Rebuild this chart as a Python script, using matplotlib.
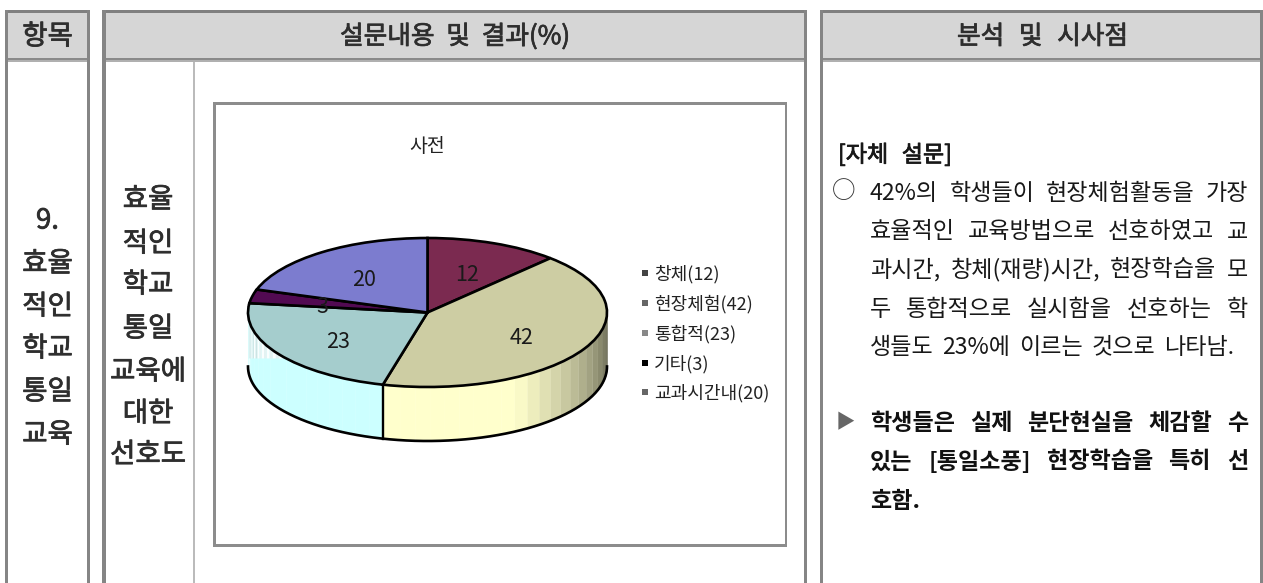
import numpy as np
import matplotlib
matplotlib.use("Agg")
import matplotlib.pyplot as plt
import matplotlib.patheffects as pe
from matplotlib.patches import Rectangle

plt.rcParams['font.family'] = ['Noto Sans CJK KR', 'DejaVu Sans']

# ---- data ----
slice_names = ["창체", "현장체험", "통합적", "기타", "교과시간내"]
slice_values = [12, 42, 23, 3, 20]
chart_title = "사전"
header_labels = ["항목", "설문내용 및 결과(%)", "분석 및 시사점"]
item_lines = ["9.", "효율", "적인", "학교", "통일", "교육"]
question_lines = ["효율", "적인", "학교", "통일", "교육에", "대한", "선호도"]
survey_heading = "[자체 설문]"
survey_lines = ["42%의 학생들이 현장체험활동을 가장",
                "효율적인 교육방법으로 선호하였고 교",
                "과시간, 창체(재량)시간, 현장학습을 모",
                "두 통합적으로 실시함을 선호하는 학",
                "생들도 23%에 이르는 것으로 나타남."]
finding_lines = ["학생들은 실제 분단현실을 체감할 수",
                 "있는 [통일소풍] 현장학습을 특히 선",
                 "호함."]

# ---- styles ----
top_colors = ["#7B2A50", "#CDCDA3", "#A5CDCD", "#520A52", "#7C7CCF"]
wall_colors = ["#7B2A50", "#FFFFCC", "#CCFFFF", "#520A52", "#7C7CCF"]
legend_marks = ["#444444", "#666666", "#888888", "#000000", "#666666"]
TXT = "#222222"
SOFT = "#2e2e2e"
MEDIUM = [pe.withStroke(linewidth=0.55, foreground=SOFT)]

W, H = 1263, 583
fig = plt.figure(figsize=(W / 100, H / 100), dpi=100, facecolor="white")
bg = fig.add_axes([0, 0, 1, 1])
bg.set_xlim(0, W)
bg.set_ylim(H, 0)
bg.axis("off")


def box(x0, y0, x1, y1, c):
    bg.add_patch(Rectangle((x0, y0), x1 - x0, y1 - y0, fc=c, ec="none", lw=0))


# table columns: outer left, inner left, inner right, outer right
columns = [(4.5, 7.5, 87, 90), (102, 105.5, 804, 807), (819.5, 822.5, 1260, 1263)]
for a, b, c, d in columns:
    box(b, 13, c, 58, "#D6D6D6")
    box(a, 10, d, 13, "#808080")
    box(a, 10, b, H, "#858585")
    box(c, 10, d, H, "#858585")
    box(b, 58, c, 60, "#8A8A8A")
    box(b, 60, c, 62, "#B0B0B0")
box(193, 62, 195, H, "#BBBBBB")

# chart frame
box(213, 102, 787, 105, "#8C8C8C")
box(213, 544, 787, 547, "#8C8C8C")
box(213, 102, 216, 547, "#8C8C8C")
box(785, 102, 787, 547, "#8C8C8C")

renderer = fig.canvas.get_renderer()


def justified(s, y, x0=870, x1=1248, justify=True, **kw):
    words = s.split(" ")
    arts = [bg.text(x0, y, w, ha="left", va="center", **kw) for w in words]
    widths = [t.get_window_extent(renderer).width for t in arts]
    if justify and len(words) > 1:
        gap = (x1 - x0 - sum(widths)) / (len(words) - 1)
    else:
        gap = 6
    x = x0
    for t, wd in zip(arts, widths):
        t.set_x(x)
        x += wd + gap


# headers
head = dict(fontsize=18.5, color=SOFT, path_effects=MEDIUM)
side = dict(fontsize=19.8, color=SOFT, path_effects=MEDIUM, ha="center", va="center")
bg.text(47.5, 37, header_labels[0], **side)
justified(header_labels[1], 37, x0=340, x1=570, **head)
justified(header_labels[2], 37, x0=957, x1=1128, **head)

for s, y in zip(item_lines, (219, 262, 305, 347, 390, 433)):
    bg.text(47.5, y + 2, s, **side)
for s, y in zip(question_lines, (198, 242, 283, 327, 370, 412, 453)):
    bg.text(148, y + 2, s, **side)

bg.text(427, 147, chart_title, ha="center", va="center", fontsize=14, color=TXT)

# legend
for name, v, c, y in zip(slice_names, slice_values, legend_marks, (273, 303, 333, 363, 392)):
    bg.plot([645], [y], marker="s", ms=4.6, color=c, mew=0, ls="none")
    bg.text(654, y + 1, f"{name}({v})", ha="left", va="center", fontsize=13, color=TXT)

# right column text, justified word by word
body = dict(fontsize=16.6, color="#181818")
bold = dict(fontsize=16.6, color="#111111", weight="bold")
justified(survey_heading, 155, x0=838, x1=952, fontsize=16.6, color="#181818",
          path_effects=[pe.withStroke(linewidth=0.55, foreground="#181818")])
bg.text(844, 192, "○", ha="center", va="center", fontsize=17, color="#333333")
for s, y in zip(survey_lines, (194, 232, 270, 309)):
    justified(s.strip(), y, **body)
justified(survey_lines[4], 347, x1=1234, **body)
bg.text(845, 423, "▶", ha="center", va="center", fontsize=14, color="#666666")
for s, y, j in zip(finding_lines, (424, 462, 502), (True, True, False)):
    justified(s, y, justify=j, **bold)

# ---- pie: top face spans px 248..607 x 238..387 ----
L, R, T, B = 248, 607, 238, 387
ax = fig.add_axes([L / W, 1 - B / H, (R - L) / W, (B - T) / H])
wedges, _, autotexts = ax.pie(
    slice_values, colors=top_colors, startangle=90, counterclock=False, radius=1,
    autopct=lambda p: f"{p:.0f}", pctdistance=0.6,
    wedgeprops=dict(edgecolor="black", linewidth=1.9, clip_on=False, zorder=3),
    textprops=dict(fontsize=15.5, color="#1a1a1a"))
for t in autotexts:
    t.set_zorder(5)
    x, y = t.get_position()
    t.set_position((x, y - 0.055))
ax.set_aspect("auto")
ax.set_xlim(-1, 1)
ax.set_ylim(-1, 1)

depth = 54 / ((B - T) / 2)
edges = np.concatenate([[0], np.cumsum(slice_values)]) * 3.6  # degrees clockwise from top


def ex(t):
    return np.sin(np.radians(t))


def ey(t):
    return np.cos(np.radians(t))


def band(t0, t1, c):
    th = np.linspace(t0, t1, 12)
    ax.fill_between(ex(th), ey(th), ey(th) - depth, color=c, lw=0.25, clip_on=False, zorder=1)


def shade(hex_c, f):
    rgb = np.array(matplotlib.colors.to_rgb(hex_c)) * f
    return tuple(rgb)


for i in range(len(slice_values)):
    a = max(edges[i], 90)
    b = min(edges[i + 1], 270)
    if a >= b:
        continue
    steps = np.arange(a, b + 4.7, 4.7)
    steps[-1] = b
    for t0, t1 in zip(steps[:-1], steps[1:]):
        mid = 0.5 * (t0 + t1)
        f = 1.0
        if mid < 151:
            f = 1 - (151 - mid) / 61 * 0.63
        band(t0, t1, shade(wall_colors[i], f))

# pale streaked strip on the far-left wall
strip_level = -0.61
steps = np.arange(232, 270.1, 2.0)
for k, (t0, t1) in enumerate(zip(steps[:-1], steps[1:])):
    th = np.linspace(t0, t1, 6)
    y_top = ey(th)
    y_bot = np.minimum(y_top, strip_level)
    near_edge = t0 > 250
    ax.fill_between(ex(th), y_top, y_bot,
                    color=("#CFE3E3" if near_edge else "#E4F2F2") if k % 2 == 0 else "#FAFEFE",
                    lw=0, clip_on=False, zorder=1.2)
th = np.linspace(262, 270, 10)
ax.fill_between(ex(th), strip_level, ey(th) - depth, color="#ECFFFF", lw=0, clip_on=False, zorder=1.2)

# bottom outline and slice divider on the wall
th = np.linspace(90, 270, 200)
ax.plot(ex(th), ey(th) - depth, color="black", lw=1.9, clip_on=False, zorder=4)
for t in edges[1:-1]:
    if 90 < t < 270:
        ax.plot([ex(t), ex(t)], [ey(t), ey(t) - depth], color="black", lw=1.7, clip_on=False, zorder=4)

fig.savefig("out.png", dpi=100)
